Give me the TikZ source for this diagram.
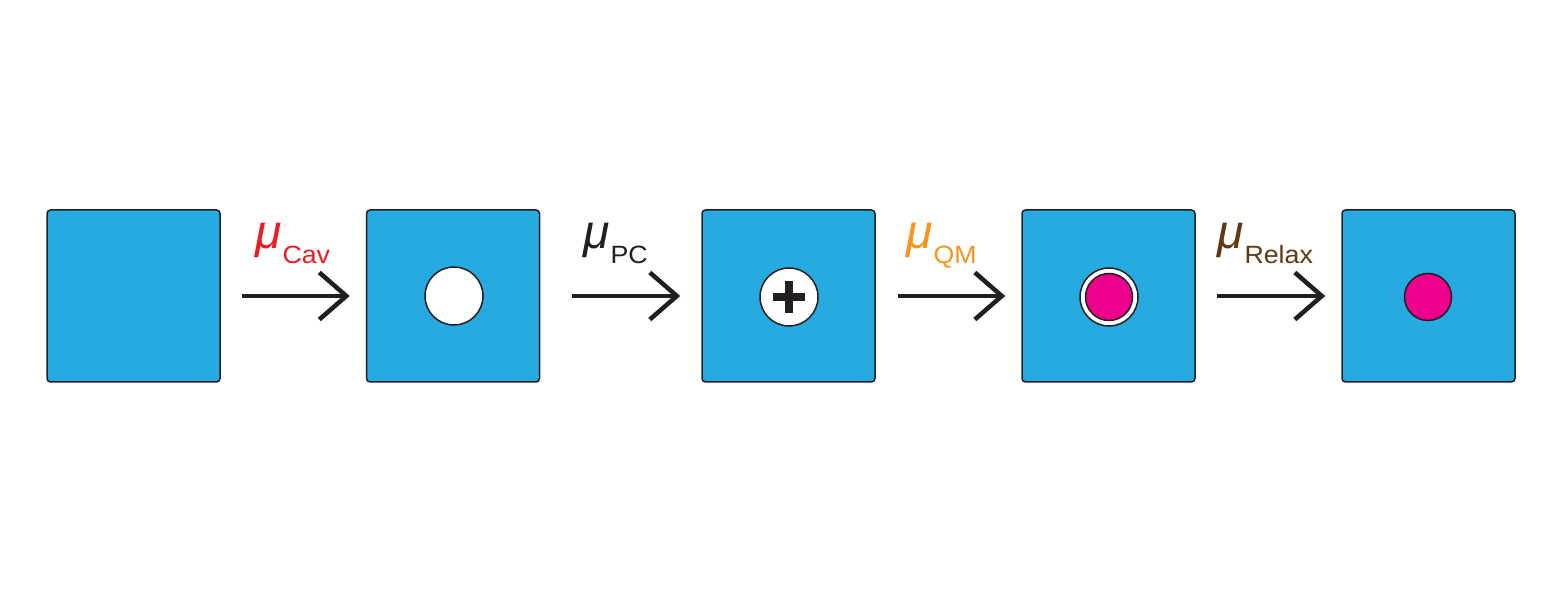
\documentclass[tikz,border=0pt]{standalone}
\usepackage{fontspec}
\setmainfont{Liberation Sans}
\newfontfamily\subfont[FakeStretch=1.07]{Liberation Sans}
\usetikzlibrary{arrows.meta}
\definecolor{boxblue}{RGB}{38,170,224}
\definecolor{dark}{RGB}{35,31,32}
\definecolor{pinkc}{RGB}{236,0,140}
\definecolor{redc}{RGB}{237,28,36}
\definecolor{orangec}{RGB}{247,148,29}
\definecolor{brownc}{RGB}{96,57,19}
\newcommand{\mulabel}[1]{{\fontsize{48}{48}\selectfont\itshape μ}\hspace{1pt}\raisebox{-15pt}{\subfont\fontsize{25}{25}\selectfont #1}}
\begin{document}
\begin{tikzpicture}[x=1pt,y=-1pt,
  cell/.style={draw=dark, line width=1.5pt, fill=boxblue, rounded corners=3.5pt, minimum width=173pt, minimum height=172pt, inner sep=0pt},
  hole/.style={circle, draw=dark, line width=1.5pt, fill=white, minimum size=58pt, inner sep=0pt},
  dot/.style={circle, draw=dark, line width=1.5pt, fill=pinkc, minimum size=47pt, inner sep=0pt},
  arr/.style={draw=dark, line width=4.5pt, -{Straight Barb[length=27pt,width=47pt,line width=4.5pt]}},
  lab/.style={anchor=base west, inner sep=0pt}]
\useasboundingbox (0,0) rectangle (1566,593);
\node[cell] (b1) at (133.5,296) {};
\node[cell] (b2) at (453,296) {};
\node[cell] (b3) at (788.5,296) {};
\node[cell] (b4) at (1108.5,296) {};
\node[cell] (b5) at (1428.5,296) {};
\node[hole] (c2) at (454,296) {};
\node[hole] (c3) at (789,297) {};
\draw[dark, line width=8pt] (c3.center) ++(-16,0) coordinate (p1) -- ++(32,0);
\draw[dark, line width=8pt] (c3.center) ++(0,-16) coordinate (p2) -- ++(0,32);
\node[hole] (c4) at (1109,297) {};
\node[dot] (d4) at (1109,297) {};
\node[dot] (d5) at (1428,297) {};
\draw[arr, shorten <=21pt, shorten >=16pt] (b1) -- (b2);
\draw[arr, shorten <=32pt, shorten >=21pt] (b2) -- (b3);
\draw[arr, shorten <=22pt, shorten >=16pt] (b3) -- (b4);
\draw[arr, shorten <=21pt, shorten >=16pt] (b4) -- (b5);
\node[lab, text=redc] (l1) at (255,249) {\mulabel{Cav}};
\node[lab, text=dark] (l2) at (583,249) {\mulabel{PC}};
\node[lab, text=orangec] (l3) at (906,249) {\mulabel{QM}};
\node[lab, text=brownc] (l4) at (1217,249) {\mulabel{Relax}};
\end{tikzpicture}
\end{document}
